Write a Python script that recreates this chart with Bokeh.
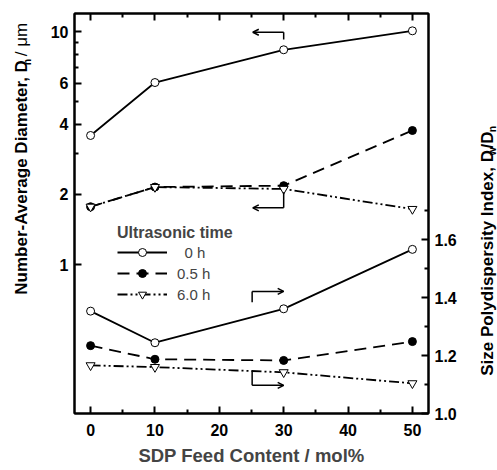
import numpy as np
from bokeh.plotting import figure
from bokeh.layouts import row
from bokeh.models import (Range1d, LinearAxis, LinearScale, FixedTicker, PrintfTickFormatter,
                          CustomJSTickFormatter, Legend, LegendItem, Label, Arrow, OpenHead)
from bokeh.embed import file_html
from bokeh.resources import INLINE

# ---------------- data ----------------
feed = [0, 10, 30, 50]                      # SDP feed content / mol%
dn_0h = [3.58, 6.04, 8.35, 10.07]           # number-average diameter (um)
dn_05h = [1.77, 2.15, 2.18, 3.76]
dn_6h = [1.77, 2.15, 2.11, 1.73]
pdi_0h = [1.353, 1.244, 1.361, 1.566]       # Dw/Dn
pdi_05h = [1.234, 1.187, 1.183, 1.248]
pdi_6h = [1.166, 1.160, 1.142, 1.104]
series_labels = ["0 h", "0.5 h", "6.0 h"]

x_ticks = [0, 10, 20, 30, 40, 50]
x_minor = [5, 15, 25, 35, 45]
dn_ticks = [1, 2, 4, 6, 10]
dn_minor = [3, 5, 7, 8, 9]
pdi_ticks = [1.0, 1.2, 1.4, 1.6]
pdi_minor = [1.1, 1.3, 1.5, 1.7]

# bracket arrows (x_vertical, y_from, y_to, x_arrow_end)
dn_brackets = [(30, 9.24, 9.93, 25.2), (30, 2.044, 1.751, 25.2)]
pdi_brackets = [(25.1, 1.384, 1.421, 30.0), (25.1, 1.148, 1.097, 30.0)]

# ---------------- layout ----------------
W, H = 497, 470
LW, RW = 46, 31                 # side strips holding the rotated axis titles
MW = W - LW - RW                # main figure width
FL, FR, FT, FB = 74, 428, 13, 413   # frame edges in page pixels
FONT = "Liberation Sans"
PDI_PX = 290.0

p = figure(width=MW, height=H, x_range=Range1d(-2.5, 52.5),
           y_range=Range1d(0.2294, 11.95), y_axis_type="log",
           output_backend="svg", toolbar_location=None,
           min_border_left=FL - LW, min_border_right=(W - RW) - FR,
           min_border_top=FT, min_border_bottom=H - FB,
           background_fill_color="white", border_fill_color="white")
p.extra_y_ranges = {"pdi": Range1d(1.0, 1.0 + (FB - FT) / PDI_PX)}
p.extra_y_scales = {"pdi": LinearScale()}
p.xgrid.visible = False
p.ygrid.visible = False
p.outline_line_color = "black"
p.outline_line_width = 2


def style_axis(ax):
    ax.axis_line_width = 2
    ax.major_tick_line_width = 2
    ax.minor_tick_line_width = 2
    ax.major_tick_in = 7
    ax.major_tick_out = 0
    ax.minor_tick_in = 4
    ax.minor_tick_out = 0
    ax.major_label_text_font = FONT
    ax.major_label_text_font_style = "bold"
    ax.major_label_text_font_size = "16px"
    ax.major_label_text_color = "black"


xa = p.xaxis[0]
style_axis(xa)
xa.ticker = FixedTicker(ticks=x_ticks, minor_ticks=x_minor)
xa.formatter = PrintfTickFormatter(format="%d")
xa.major_label_standoff = 10
xa.axis_label = "SDP Feed Content / mol%"
xa.axis_label_text_font = FONT
xa.axis_label_text_font_style = "bold"
xa.axis_label_text_font_size = "18.5px"
xa.axis_label_standoff = 6

top = LinearAxis(ticker=FixedTicker(ticks=x_ticks, minor_ticks=x_minor),
                 formatter=CustomJSTickFormatter(code="return ''"))
style_axis(top)
top.major_label_standoff = 0
p.add_layout(top, "above")

ya = p.yaxis[0]
style_axis(ya)
ya.ticker = FixedTicker(ticks=dn_ticks, minor_ticks=dn_minor)
ya.formatter = PrintfTickFormatter(format="%d")
ya.major_label_standoff = 6

ra = LinearAxis(y_range_name="pdi",
                ticker=FixedTicker(ticks=pdi_ticks, minor_ticks=pdi_minor),
                formatter=PrintfTickFormatter(format="%.1f"))
style_axis(ra)
ra.major_label_standoff = 6
p.add_layout(ra, "right")

# ---------------- series ----------------
styles = [
    dict(dash="solid", marker="circle", fill="white", size=8),
    dict(dash="12 7", marker="circle", fill="black", size=8),
    dict(dash="10 3 2 3 2 3", marker="inverted_triangle", fill="white", size=9),
]


def draw(ys, st, yr=None):
    kw = {} if yr is None else {"y_range_name": yr}
    ln = p.line(feed, ys, line_color="black", line_width=1.8,
                line_dash=st["dash"], **kw)
    sc = p.scatter(feed, ys, marker=st["marker"], size=st["size"],
                   fill_color=st["fill"], line_color="black", line_width=1, **kw)
    return ln, sc


legend_renderers = []
for ys, st in zip([dn_0h, dn_05h, dn_6h], styles):
    legend_renderers.append(draw(ys, st))
for ys, st in zip([pdi_0h, pdi_05h, pdi_6h], styles):
    draw(ys, st, "pdi")

# ---------------- bracket arrows ----------------
for xv, y0, y1, xe in dn_brackets:
    p.segment(x0=[xv], y0=[y0], x1=[xv], y1=[y1], line_color="black", line_width=1.5)
    p.add_layout(Arrow(x_start=xv, y_start=y1, x_end=xe, y_end=y1, line_width=1.5,
                       end=OpenHead(size=6, line_width=1.5)))
for xv, y0, y1, xe in pdi_brackets:
    p.segment(x0=[xv], y0=[y0], x1=[xv], y1=[y1], line_color="black", line_width=1.5,
              y_range_name="pdi")
    p.add_layout(Arrow(x_start=xv, y_start=y1, x_end=xe, y_end=y1, line_width=1.5,
                       y_range_name="pdi", end=OpenHead(size=6, line_width=1.5)))

# ---------------- legend ----------------
items = [LegendItem(label=("\u2002" + lab) if lab == "0 h" else lab, renderers=list(r))
         for lab, r in zip(series_labels, legend_renderers)]
legend = Legend(items=items, location=(43, 109), title="Ultrasonic time",
                title_text_font=FONT, title_text_font_style="bold",
                title_text_font_size="16px", title_standoff=0,
                label_text_font=FONT, label_text_font_size="15px",
                glyph_width=50, glyph_height=20, label_height=20,
                label_standoff=10, spacing=1, padding=0, margin=0,
                border_line_color=None, background_fill_alpha=0)
p.add_layout(legend)

# ---------------- side strips with rotated axis titles ----------------


def strip(width):
    s = figure(width=width, height=H, x_range=Range1d(0, width), y_range=Range1d(0, H),
               output_backend="svg", toolbar_location=None,
               x_axis_location=None, y_axis_location=None,
               min_border=0, min_border_left=0, min_border_right=0,
               min_border_top=0, min_border_bottom=0,
               background_fill_color="white", border_fill_color="white")
    s.outline_line_color = None
    s.xgrid.visible = False
    s.ygrid.visible = False
    return s


def vlabel(s, x, y, text, size="17px", style="bold"):
    # (x, y): centre of the rotated text, in pixels from strip left / page top
    s.add_layout(Label(x=x, y=H - y, text=text, angle=90, angle_units="deg",
                       text_align="center", text_baseline="middle",
                       text_font=FONT, text_font_style=style, text_font_size=size,
                       text_color="black"))


left = strip(LW)
vlabel(left, 21.3, 192.6, "Number-Average Diameter, D")
vlabel(left, 26.3, 57.0, "n", size="10.5px")
vlabel(left, 21.3, 30.5, "/ \u03bcm", style="normal")

right = strip(RW)
ox = W - RW
vlabel(right, 487.3 - ox, 293.1, "Size Polydispersity Index, D")
vlabel(right, 491.5 - ox, 162.0, "w", size="10.5px")
vlabel(right, 487.3 - ox, 148.6, "/D")
vlabel(right, 491.5 - ox, 135.7, "n", size="10.5px")

layout = row(left, p, right, spacing=0)
open("out.html", "w").write(file_html(layout, INLINE))
